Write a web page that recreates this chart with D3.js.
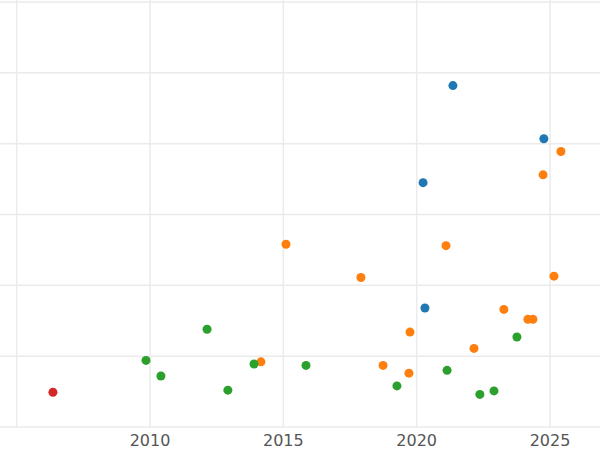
<!DOCTYPE html>
<html><head><meta charset="utf-8">
<script src="https://cdn.jsdelivr.net/npm/d3@7"></script>
<style>body{margin:0;background:#fff}</style></head>
<body><svg id="c" width="600" height="450"></svg>
<script>
const xTicks=[2005,2010,2015,2020,2025];
const yTicks=[0,1,2,3,4,5,6];
const seriesNames=["blue","orange","green","red"];
const colors=["#1f77b4","#ff7f0e","#2ca02c","#d62728"];
const blueX=[2021.36,2024.77,2020.24,2020.31];
const blueY=[4.82,4.07,3.45,1.68];
const orangeX=[2025.41,2024.74,2015.1,2021.1,2017.91,2025.15,2023.27,2024.17,2024.36,2019.75,2022.15,2014.16,2018.74,2019.71];
const orangeY=[3.89,3.56,2.58,2.56,2.11,2.13,1.66,1.52,1.52,1.34,1.11,0.92,0.87,0.76];
const greenX=[2012.14,2009.85,2010.41,2013.9,2015.85,2012.92,2023.76,2021.14,2019.26,2022.37,2022.9];
const greenY=[1.38,0.94,0.72,0.89,0.87,0.52,1.27,0.80,0.58,0.46,0.51];
const redX=[2006.36];
const redY=[0.49];
const allX=[blueX,orangeX,greenX,redX], allY=[blueY,orangeY,greenY,redY];
const svg=d3.select("#c");
const x=d3.scaleLinear().domain([2004.375,2026.875]).range([0,600]);
const y=d3.scaleLinear().domain([0,6]).range([427,2]);
svg.append("g").selectAll("line").data(yTicks).join("line")
 .attr("x1",0).attr("x2",600).attr("y1",d=>y(d)).attr("y2",d=>y(d))
 .attr("stroke","#ebebeb").attr("stroke-width",1.5);
svg.append("g").selectAll("line").data(xTicks).join("line")
 .attr("x1",d=>x(d)).attr("x2",d=>x(d)).attr("y1",0).attr("y2",427)
 .attr("stroke","#ebebeb").attr("stroke-width",1.5);
svg.append("g").selectAll("text").data(xTicks.filter(d=>d>2005)).join("text")
 .attr("x",d=>x(d)).attr("y",446).attr("text-anchor","middle")
 .attr("font-family","DejaVu Sans").attr("font-size",16).attr("fill","#555")
 .text(d=>d);
allX.forEach((xs,i)=>{
 svg.append("g").selectAll("circle").data(xs.map((v,j)=>[v,allY[i][j]])).join("circle")
  .attr("cx",d=>x(d[0])).attr("cy",d=>y(d[1])).attr("r",4.5).attr("fill",colors[i]);
});
</script></body></html>
